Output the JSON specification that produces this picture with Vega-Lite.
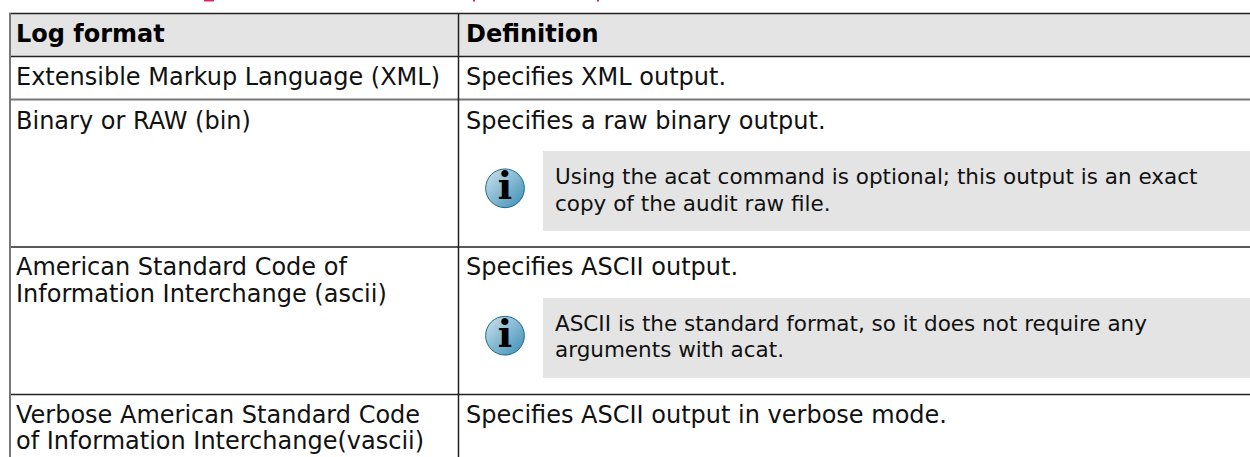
{"$schema":"https://vega.github.io/schema/vega-lite/v6.json","width":1250,"height":457,"autosize":"none","padding":0,"background":"white","config":{"view":{"stroke":null}},
"datasets":{
"fills":[{"x0":9,"x1":1250,"y0":13,"y1":56,"part":"header"},{"x0":543,"x1":1250,"y0":151,"y1":231,"part":"note"},{"x0":543,"x1":1250,"y0":298,"y1":378,"part":"note"}],
"rules":[{"x0":9,"x1":1250,"y0":13.5,"y1":13.5,"c":"dark"},{"x0":9,"x1":1250,"y0":56.5,"y1":56.5,"c":"dark"},{"x0":9,"x1":1250,"y0":99.5,"y1":99.5,"c":"mid"},{"x0":9,"x1":1250,"y0":247,"y1":247,"c":"dark"},{"x0":9,"x1":1250,"y0":394.5,"y1":394.5,"c":"dark"},{"x0":10,"x1":10,"y0":13,"y1":457,"c":"mid"},{"x0":458.5,"x1":458.5,"y0":13,"y1":457,"c":"dark"}],
"frag":[{"x0":204,"x1":214,"y0":0,"y1":1.5},{"x0":473,"x1":475,"y0":0,"y1":1.5},{"x0":597,"x1":599,"y0":0,"y1":1.5}],
"heads":[{"x":16,"y":34.5,"t":"Log format"},{"x":466,"y":34.5,"t":"Definition"}],
"texts":[
{"x":16,"y":78,"t":"Extensible Markup Language (XML)","k":"body"},{"x":466,"y":78,"t":"Specifies XML output.","k":"body"},
{"x":16,"y":122,"t":"Binary or RAW (bin)","k":"body"},{"x":466,"y":122,"t":"Specifies a raw binary output.","k":"body"},
{"x":555,"y":178,"t":"Using the acat command is optional; this output is an exact","k":"note"},{"x":555,"y":204.5,"t":"copy of the audit raw file.","k":"note"},
{"x":16,"y":267.8,"t":"American Standard Code of","k":"body"},{"x":16,"y":294.5,"t":"Information Interchange (ascii)","k":"body"},{"x":466,"y":267.8,"t":"Specifies ASCII output.","k":"body"},
{"x":555,"y":324.5,"t":"ASCII is the standard format, so it does not require any","k":"note"},{"x":555,"y":351,"t":"arguments with acat.","k":"note"},
{"x":16,"y":415.7,"t":"Verbose American Standard Code","k":"body"},{"x":16,"y":442,"t":"of Information Interchange(vascii)","k":"body"},{"x":466,"y":415.7,"t":"Specifies ASCII output in verbose mode.","k":"body"}],
"icons":[{"x":505,"y":188.3},{"x":505,"y":335.7}]
},
"layer":[
{"data":{"name":"fills"},"mark":{"type":"rect","fill":"#e4e4e4"},"encoding":{"x":{"field":"x0","type":"quantitative","scale":{"domain":[0,1250],"nice":false,"zero":false},"axis":null},"x2":{"field":"x1"},"y":{"field":"y0","type":"quantitative","scale":{"domain":[457,0],"nice":false,"zero":false},"axis":null},"y2":{"field":"y1"}}},
{"data":{"name":"frag"},"mark":{"type":"rect","fill":"#e0245e"},"encoding":{"x":{"field":"x0","type":"quantitative","axis":null},"x2":{"field":"x1"},"y":{"field":"y0","type":"quantitative","axis":null},"y2":{"field":"y1"}}},
{"data":{"name":"rules"},"mark":{"type":"rule"},"encoding":{"x":{"field":"x0","type":"quantitative","axis":null},"x2":{"field":"x1"},"y":{"field":"y0","type":"quantitative","axis":null},"y2":{"field":"y1"},"strokeWidth":{"field":"c","type":"nominal","scale":{"domain":["dark","mid"],"range":[1.5,2]},"legend":null},"color":{"field":"c","type":"nominal","scale":{"domain":["dark","mid"],"range":["#222222","#777777"]},"legend":null}}},
{"data":{"name":"heads"},"mark":{"type":"text","align":"left","baseline":"middle","font":"DejaVu Sans","fontWeight":"bold","fontSize":24,"color":"#000000"},"encoding":{"x":{"field":"x","type":"quantitative","axis":null},"y":{"field":"y","type":"quantitative","axis":null},"text":{"field":"t"}}},
{"data":{"name":"texts"},"mark":{"type":"text","align":"left","baseline":"middle","font":"DejaVu Sans","color":"#111111"},"encoding":{"x":{"field":"x","type":"quantitative","axis":null},"y":{"field":"y","type":"quantitative","axis":null},"text":{"field":"t"},"size":{"field":"k","type":"nominal","scale":{"domain":["body","note"],"range":[24,21.5]},"legend":null}}},
{"data":{"name":"icons"},"mark":{"type":"point","filled":true,"shape":"circle","size":1500,"stroke":"#1b6a90","strokeWidth":1,"fill":{"gradient":"linear","x1":0,"y1":0,"x2":1,"y2":1,"stops":[{"offset":0,"color":"#cfe3ee"},{"offset":1,"color":"#3a8db3"}]},"opacity":1},"encoding":{"x":{"field":"x","type":"quantitative","axis":null},"y":{"field":"y","type":"quantitative","axis":null}}},
{"data":{"name":"icons"},"mark":{"type":"text","text":"i","font":"DejaVu Serif","fontWeight":"bold","fontSize":38,"align":"center","baseline":"middle","color":"#000000"},"encoding":{"x":{"field":"x","type":"quantitative","axis":null},"y":{"field":"y","type":"quantitative","axis":null}}}
]}
